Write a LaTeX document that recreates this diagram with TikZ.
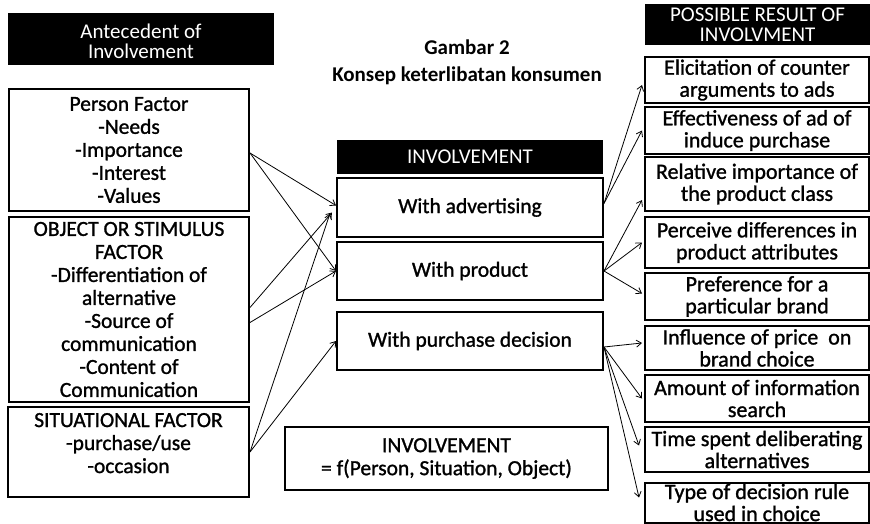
\documentclass[tikz,border=0pt]{standalone}
\usepackage{fontspec}
\setmainfont{Carlito}
\newfontfamily\semib{Carlito}[FakeBold=1.2]
\usetikzlibrary{arrows.meta}
\newcommand\fsz{\semib\fontsize{21.5}{23}\selectfont}
\newcommand\fsr{\semib\fontsize{22}{22}\selectfont}
\begin{document}
\begin{tikzpicture}[x=1pt,y=-1pt,
  hdr/.style={fill=black,text=white,align=center,inner sep=0pt,font=\fontsize{21}{21}\selectfont},
  bx/.style={draw=black,line width=2pt,align=center,inner sep=0pt,font=\fsz},
  rbx/.style={bx,minimum width=224pt,font=\fsr},
  arr/.style={-{Straight Barb[length=5pt,width=7pt]},line width=0.8pt}]
\useasboundingbox (0,0) rectangle (870,524);
% left column
\node[hdr,minimum width=266pt,minimum height=52pt] (lh) at (141,39) {\raisebox{-5pt}[\height][\depth]{\begin{tabular}{@{}c@{}}Antecedent of\\[-1pt]Involvement\end{tabular}}};
\node[bx,minimum width=240pt,minimum height=122pt] (pf) at (129,150) {Person Factor\\-Needs\\-Importance\\-Interest\\-Values};
\node[bx,minimum width=240pt,minimum height=185pt] (of) at (129,309.5) {OBJECT OR STIMULUS\\FACTOR\\-Differentiation of\\alternative\\-Source of\\communication\\-Content of\\Communication};
\node[bx,minimum width=241pt,minimum height=90pt] (sf) at (128.5,452) {SITUATIONAL FACTOR\\-purchase/use\\-occasion\\[-12pt]\strut};
% centre column
\node[font=\bfseries\fontsize{21}{27}\selectfont,align=center] (title) at (467,62) {Gambar 2\\Konsep keterlibatan konsumen};
\node[hdr,minimum width=266pt,minimum height=34pt] (ih) at (470,157) {INVOLVEMENT};
\node[bx,minimum width=266pt,minimum height=59pt] (adv) at (470,207.5) {With advertising};
\node[bx,minimum width=266pt,minimum height=58pt] (prod) at (470,271) {With product};
\node[bx,minimum width=266pt,minimum height=58pt] (pur) at (470,341) {With purchase decision};
\node[bx,minimum width=323pt,minimum height=63pt] (fx) at (446.5,458.5) {INVOLVEMENT\\= f(Person, Situation, Object)};
% right column
\node[hdr,minimum width=225pt,minimum height=41pt,font=\fontsize{21}{20}\selectfont] (rh) at (757.5,24.5) {POSSIBLE RESULT OF\\INVOLVMENT};
\node[rbx,minimum height=46pt] (r1) at (757,80) {Elicitation of counter\\arguments to ads};
\node[rbx,minimum height=47pt] (r2) at (757,130.5) {Effectiveness of ad of\\induce purchase};
\node[rbx,minimum height=54pt] (r3) at (757,184) {Relative importance of\\the product class};
\node[rbx,minimum height=51pt] (r4) at (757,242.5) {Perceive differences in\\product attributes};
\node[rbx,minimum height=47pt] (r5) at (757,296.5) {Preference for a\\particular brand};
\node[rbx,minimum height=44pt] (r6) at (757,348) {Influence of price\ \ on\\brand choice};
\node[rbx,minimum height=47pt] (r7) at (757,398.5) {Amount of information\\search};
\node[rbx,minimum height=45pt] (r8) at (757,449.5) {Time spent deliberating\\alternatives};
\node[rbx,minimum height=40pt] (r9) at (757,502.5) {Type of decision rule\\used in choice};
% left connectors
\draw[arr] ([yshift=-3pt]pf.east) -- ([yshift=2pt]adv.west);
\draw[arr] ([yshift=-3pt]pf.east) -- (prod.west);
\draw[arr] ([yshift=2pt]of.east) -- ([xshift=-4pt,yshift=-5pt]adv.west);
\draw[arr] ([yshift=-13pt]of.east) -- (prod.west);
\draw[arr] (sf.east) -- ([xshift=-6pt,yshift=-6pt]adv.west);
\draw[arr] (sf.east) -- (pur.west);
% right connectors
\draw[arr] ([yshift=4pt]adv.east) -- ([xshift=-2pt,yshift=-5pt]r1.west);
\draw[arr] ([yshift=4pt]adv.east) -- ([xshift=-2pt]r2.west);
\draw[arr] (prod.east) -- ([xshift=-2pt,yshift=-16pt]r3.west);
\draw[arr] (prod.east) -- ([xshift=-2pt]r4.west);
\draw[arr] (prod.east) -- ([xshift=-2pt,yshift=3pt]r5.west);
\draw[arr] ([yshift=-6pt]pur.east) -- ([xshift=-2pt,yshift=5pt]r6.west);
\draw[arr] ([yshift=-6pt]pur.east) -- ([xshift=-2pt]r7.west);
\draw[arr] ([yshift=-6pt]pur.east) -- ([xshift=-5pt,yshift=4pt]r8.west);
\draw[arr] ([yshift=-6pt]pur.east) -- ([xshift=-5pt,yshift=5pt]r9.west);
\end{tikzpicture}
\end{document}
